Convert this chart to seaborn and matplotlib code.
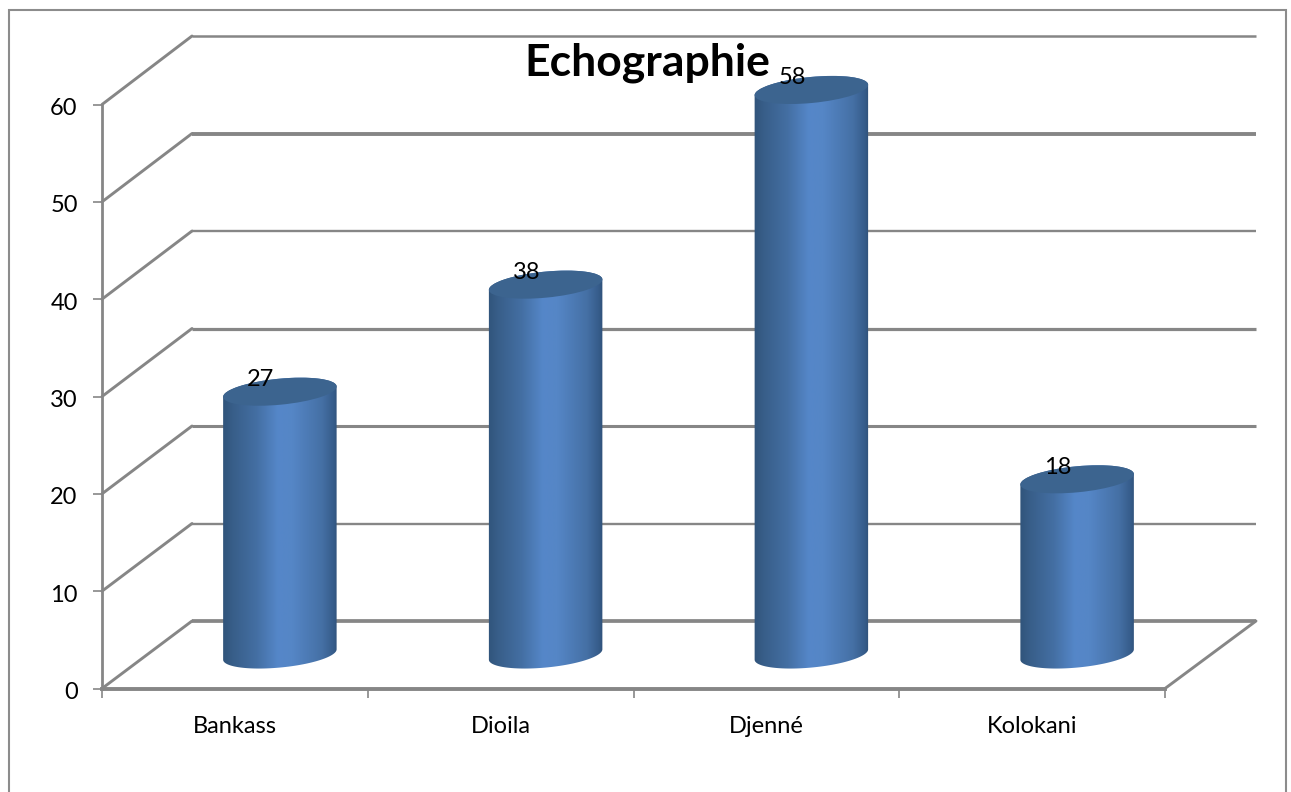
import numpy as np
import matplotlib
matplotlib.use("Agg")
import matplotlib.pyplot as plt
import seaborn as sns
from matplotlib.colors import LinearSegmentedColormap
from matplotlib.patches import ConnectionPatch, Ellipse, PathPatch, Rectangle
from matplotlib.path import Path
from matplotlib.transforms import IdentityTransform, ScaledTranslation

categories = ["Bankass", "Dioila", "Djenné", "Kolokani"]
values = [27, 38, 58, 18]
y_ticks = [0, 10, 20, 30, 40, 50, 60]
grid_widths = [2.7, 1.7, 2.2, 2.3, 1.7, 2.8, 1.8]
chart_title = "Echographie"

W, H = 1291, 792
GREY = "#868686"
BAR_WIDTH = 0.425
TILT = 5.5
CAP_W, CAP_H = 114, 26

sns.set_theme(style="white")
plt.rcParams["font.family"] = ["Lato", "DejaVu Sans"]

fig = plt.figure(figsize=(W / 100, H / 100), dpi=100, facecolor="white")


def frame_axes(left, top, right, bottom, z):
    ax = fig.add_axes([left / W, 1 - bottom / H, (right - left) / W, (bottom - top) / H], zorder=z)
    ax.set_xlim(-0.5, len(categories) - 0.5)
    ax.set_ylim(y_ticks[0], y_ticks[-1])
    ax.patch.set_visible(False)
    return ax


# Chart border, open at the lower edge
fig.add_artist(Rectangle((8.5, -10), 1277.5, 792, transform=IdentityTransform(),
                         fill=False, edgecolor="#8c8c8c", linewidth=1.5))

# Back wall carrying the horizontal gridlines
back = frame_axes(192, 36, 1256, 621, 1)
back.set_yticks(y_ticks)
back.set_xticks([])
back.tick_params(left=False, labelleft=False)
sns.despine(ax=back, left=True, bottom=True)
back.grid(False)
for level, lw in zip(y_ticks, grid_widths):
    back.axhline(level, color=GREY, linewidth=lw, clip_on=False, solid_capstyle="butt")

# Bar layer sits halfway through the depth of the box
mid = frame_axes(147, 70.5, 1210, 654.5, 3)
sns.barplot(x=categories, y=values, ax=mid, width=BAR_WIDTH, color="#4f81bd", saturation=1, legend=False)
mid.set_xlim(-0.5, len(categories) - 0.5)
mid.set_ylim(y_ticks[0], y_ticks[-1])
mid.set_xlabel("")
mid.set_ylabel("")
mid.set_xticks([])
mid.set_yticks([])
sns.despine(ax=mid, left=True, bottom=True)

shade = LinearSegmentedColormap.from_list(
    "cylinder",
    [(0.00, "#2f5278"), (0.10, "#385e89"), (0.30, "#446fa3"), (0.48, "#5587c9"),
     (0.60, "#5586c6"), (0.85, "#4570a5"), (0.95, "#365c8a"), (1.00, "#2d4c70")],
)
ramp = np.linspace(0, 1, 256)[None, :]


def cap_points(cx, cy, start, stop):
    # Points along the tilted elliptical rim of a cylinder, in display pixels
    t = np.linspace(start, stop, 60)
    a, b = CAP_W / 2, CAP_H / 2
    phi = np.deg2rad(TILT)
    x = a * np.cos(t) * np.cos(phi) - b * np.sin(t) * np.sin(phi)
    y = a * np.cos(t) * np.sin(phi) + b * np.sin(t) * np.cos(phi)
    return np.column_stack([cx + x, cy + y])


for i, (bar, value) in enumerate(zip(mid.patches, values)):
    bar.set_visible(False)
    cx, base = mid.transData.transform((i, 0))
    _, top = mid.transData.transform((i, value))
    rim_low = cap_points(cx, base, np.pi, 2 * np.pi)
    rim_top = cap_points(cx, top, 0, np.pi)
    outline = np.vstack([rim_low, rim_top, rim_low[:1]])
    body = PathPatch(Path(outline, closed=True), transform=IdentityTransform(),
                     facecolor="none", edgecolor="none")
    mid.add_patch(body)
    image = mid.imshow(ramp, cmap=shade, aspect="auto", vmin=0, vmax=1,
                       extent=(i - BAR_WIDTH / 2 - 0.01, i + BAR_WIDTH / 2 + 0.01, -3, value + 3), zorder=3)
    # The lower rim hangs below the axes box, so clip to the figure and the outline only
    image.set_clip_box(fig.bbox)
    image.set_clip_path(body)
    mid.add_patch(Ellipse((cx, top), CAP_W, CAP_H, angle=TILT, transform=IdentityTransform(),
                          facecolor="#3c648f", edgecolor="none", zorder=4))
    mid.annotate(str(value), xy=(i, value), xytext=(-19, 12), textcoords="offset pixels",
                 ha="center", va="center", fontsize=17, color="black", zorder=5,
                 annotation_clip=False)
mid.set_xlim(-0.5, len(categories) - 0.5)
mid.set_ylim(y_ticks[0], y_ticks[-1])

# Front plane with the two visible axes
front = frame_axes(102, 104.5, 1165, 688.5, 2)
front.set_yticks(y_ticks)
front.set_xticks(np.arange(len(categories) + 1) - 0.5)
front.set_xticklabels([])
front.tick_params(axis="both", length=6.5, width=1.2, color=GREY, left=True, bottom=True,
                  labelsize=17, labelcolor="black")
front.tick_params(axis="y", pad=11)
sns.despine(ax=front)
front.spines["left"].set(color=GREY, linewidth=2.0)
front.spines["bottom"].set(color=GREY, linewidth=2.8)
nudge = ScaledTranslation(0, -2 / 100, fig.dpi_scale_trans)
for label in front.get_yticklabels():
    label.set_transform(label.get_transform() + nudge)
for i, name in enumerate(categories):
    front.annotate(name, xy=(i, 0), xytext=(0, -38), textcoords="offset pixels",
                   ha="center", va="center", fontsize=17, color="black", annotation_clip=False)

# Depth edges joining the front plane to the back wall
for level in y_ticks:
    fig.add_artist(ConnectionPatch((-0.5, level), (-0.5, level), "data", "data",
                                   axesA=front, axesB=back, color=GREY, linewidth=2.1))
fig.add_artist(ConnectionPatch((len(categories) - 0.5, 0), (len(categories) - 0.5, 0), "data", "data",
                               axesA=front, axesB=back, color=GREY, linewidth=2.1))

fig.text(647 / W, 1 - 63 / H, chart_title, ha="center", va="center",
         fontsize=32, fontweight="bold", color="black", zorder=10)

fig.savefig("out.png", dpi=100, facecolor="white")
